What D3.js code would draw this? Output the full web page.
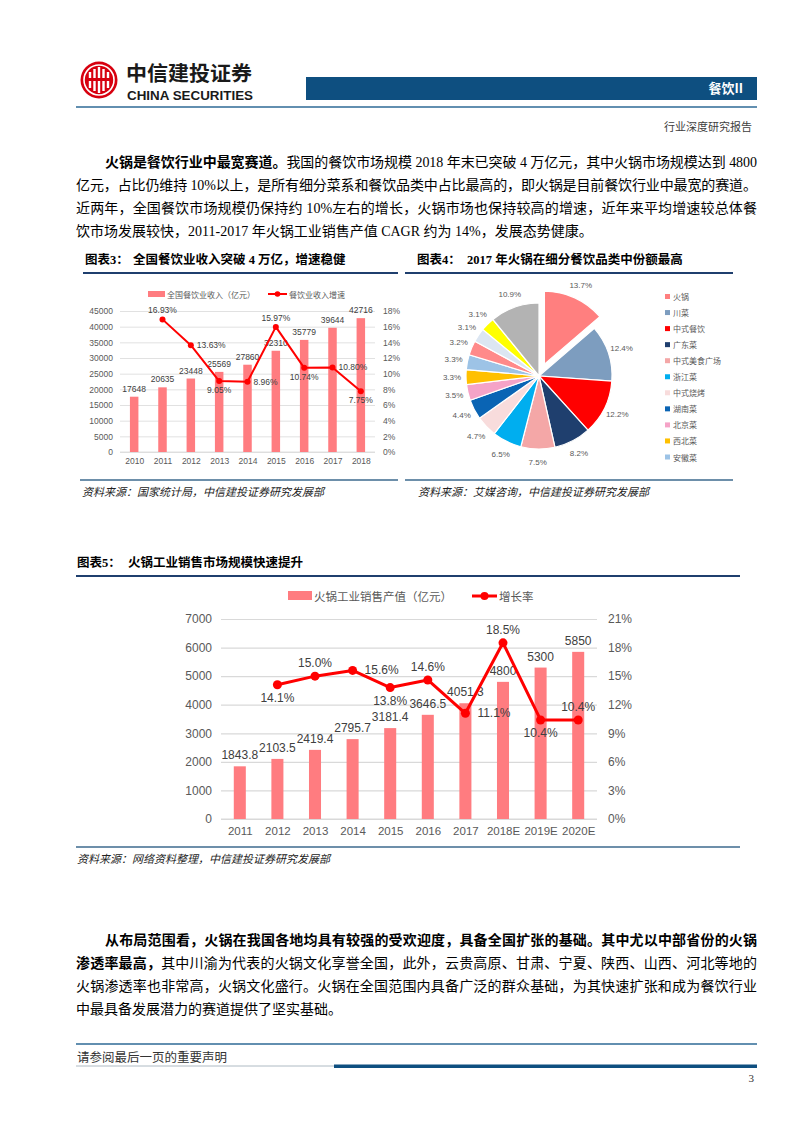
<!DOCTYPE html>
<html><head><meta charset="utf-8">
<script src="https://cdn.jsdelivr.net/npm/d3@7"></script>
<style>body{margin:0;background:#fff}svg{display:block}</style>
</head><body>
<svg id="page" width="802" height="1133"></svg>
<script>
// ---------------- DATA ----------------
// Chart 3: national catering revenue
const c3Years = ["2010","2011","2012","2013","2014","2015","2016","2017","2018"];
const c3Revenue = [17648,20635,23448,25569,27860,32310,35779,39644,42716];
const c3Growth = [null,16.93,13.63,9.05,8.96,15.97,10.74,10.80,7.75];
const c3LeftTicks = [0,5000,10000,15000,20000,25000,30000,35000,40000,45000];
const c3RightTicks = [0,2,4,6,8,10,12,14,16,18];

// Chart 4: 2017 share by catering category
const c4Categories = ["火锅","川菜","中式餐饮","广东菜","中式美食广场","浙江菜","中式烧烤","湖南菜","北京菜","西北菜","安徽菜","其他1","其他2","其他3","其他4"];
const c4Shares = [13.7,12.4,12.2,8.2,7.5,6.5,4.7,4.4,3.5,3.3,3.3,3.2,3.1,3.1,10.9];

// Chart 5: hotpot industrial sales output
const c5Years = ["2011","2012","2013","2014","2015","2016","2017","2018E","2019E","2020E"];
const c5Output = [1843.8,2103.5,2419.4,2795.7,3181.4,3646.5,4051.3,4800,5300,5850];
const c5Growth = [null,14.1,15.0,15.6,13.8,14.6,11.1,18.5,10.4,10.4];
const c5LeftTicks = [0,1000,2000,3000,4000,5000,6000,7000];
const c5RightTicks = [0,3,6,9,12,15,18,21];

// ---------------- STYLES ----------------
const c4Colors = ["#FF7F7F","#7D9DBF","#FF0000","#1F3F6E","#F4A7A7","#00AEEF","#F8DCDC","#0A64B4","#F5A3C7","#FFC000","#9DC3E6","#FF8A8A","#DCE6F2","#FFFF00","#B3B3B3"];
const c3LabelPos = [null,"above","right","below","right","above","below","right","below"];
const c5LabelPos = [null,"below","above","right","below","above","right","above","below","above"];
const SERIF = "'Liberation Serif','Noto Sans CJK SC',serif";
const SANS = "'Liberation Sans',Arial,'Noto Sans CJK SC',sans-serif";
const CJK = "'Noto Sans CJK SC','Liberation Sans',sans-serif";
const BAR = "#FF7C80";
const GREY = "#595959";

const svg = d3.select("#page");
svg.append("rect").attr("width",802).attr("height",1133).attr("fill","#fff");

// ---------------- HEADER ----------------
const logo = svg.append("g").attr("transform","translate(99,80)");
logo.append("circle").attr("r",18.5).attr("fill","#D7000F");
logo.append("circle").attr("r",15).attr("fill","none").attr("stroke","#fff").attr("stroke-width",1.6);
[-9,-4.5,0,4.5,9].forEach((dx,i)=>{
  const h = [16,22,26,22,16][i];
  logo.append("rect").attr("x",dx-1.2).attr("y",-h/2).attr("width",2.4).attr("height",h).attr("fill","#fff");
});
logo.append("rect").attr("x",-11).attr("y",-2).attr("width",22).attr("height",3).attr("fill","#D7000F");
svg.append("text").attr("x",126).attr("y",81).attr("font-family",CJK).attr("font-weight","bold")
  .attr("font-size",20).attr("fill","#1a1a1a").attr("textLength",126).attr("lengthAdjust","spacingAndGlyphs").text("中信建投证券");
svg.append("text").attr("x",127).attr("y",99.5).attr("font-family",SANS).attr("font-weight","bold")
  .attr("font-size",12.5).attr("fill","#1a1a1a").attr("textLength",126).attr("lengthAdjust","spacingAndGlyphs").text("CHINA SECURITIES");
svg.append("rect").attr("x",306).attr("y",77).attr("width",451).attr("height",23).attr("fill","#0E4F80");
svg.append("text").attr("x",743).attr("y",93).attr("text-anchor","end").attr("font-family",CJK).attr("font-weight","bold")
  .attr("font-size",13).attr("fill","#fff").text("餐饮II");
svg.append("line").attr("x1",76).attr("x2",757).attr("y1",107).attr("y2",107).attr("stroke","#2E6A96").attr("stroke-width",1.3);
svg.append("text").attr("x",752).attr("y",131).attr("text-anchor","end").attr("font-family",CJK)
  .attr("font-size",11).attr("fill","#404040").text("行业深度研究报告");

// ---------------- PARAGRAPHS ----------------
function para(lines, y0, lh) {
  lines.forEach((ln,i)=>{
    const x = ln.indent ? 105 : 76;
    const t = svg.append("text").attr("x",x).attr("y",y0+i*lh).attr("font-family",SERIF)
      .attr("font-size",14).attr("fill","#000");
    ln.segs.forEach(s=>t.append("tspan").attr("font-weight",s.b?"bold":"normal").text(s.t));
    if (ln.justify) t.attr("textLength",757-x).attr("lengthAdjust","spacing");
  });
}
para([
  {indent:true,justify:true,segs:[{b:true,t:"火锅是餐饮行业中最宽赛道。"},{t:"我国的餐饮市场规模 2018 年末已突破 4 万亿元，其中火锅市场规模达到 4800"}]},
  {justify:true,segs:[{t:"亿元，占比仍维持 10%以上，是所有细分菜系和餐饮品类中占比最高的，即火锅是目前餐饮行业中最宽的赛道。"}]},
  {justify:true,segs:[{t:"近两年，全国餐饮市场规模仍保持约 10%左右的增长，火锅市场也保持较高的增速，近年来平均增速较总体餐"}]},
  {justify:false,segs:[{t:"饮市场发展较快，2011-2017 年火锅工业销售产值 CAGR 约为 14%，发展态势健康。"}]}
], 167, 23);
para([
  {indent:true,justify:true,segs:[{b:true,t:"从布局范围看，火锅在我国各地均具有较强的受欢迎度，具备全国扩张的基础。其中尤以中部省份的火锅"}]},
  {justify:true,segs:[{b:true,t:"渗透率最高，"},{t:"其中川渝为代表的火锅文化享誉全国，此外，云贵高原、甘肃、宁夏、陕西、山西、河北等地的"}]},
  {justify:true,segs:[{t:"火锅渗透率也非常高，火锅文化盛行。火锅在全国范围内具备广泛的群众基础，为其快速扩张和成为餐饮行业"}]},
  {justify:false,segs:[{t:"中最具备发展潜力的赛道提供了坚实基础。"}]}
], 945, 23);

// ---------------- TITLES / SOURCES ----------------
function title(x1, x2, y, num, nx, txt, tx) {
  svg.append("text").attr("x",nx).attr("y",y).attr("font-family",SERIF).attr("font-weight","bold")
    .attr("font-size",12.5).attr("fill","#000").text(num);
  svg.append("text").attr("x",tx).attr("y",y).attr("font-family",SERIF).attr("font-weight","bold")
    .attr("font-size",12.5).attr("fill","#000").text(txt);
  svg.append("line").attr("x1",x1).attr("x2",x2).attr("y1",y+9).attr("y2",y+9).attr("stroke","#1F3F6E").attr("stroke-width",2);
}
function source(x1, x2, y, tx, txt) {
  svg.append("line").attr("x1",x1).attr("x2",x2).attr("y1",y).attr("y2",y).attr("stroke","#3C6A8E").attr("stroke-width",1.3);
  svg.append("text").attr("x",tx).attr("y",y+16).attr("font-family",SERIF).attr("font-style","italic")
    .attr("font-size",11).attr("fill","#222").text(txt);
}
title(83, 398, 264, "图表3：", 85, "全国餐饮业收入突破 4 万亿，增速稳健", 133);
title(405, 733, 264, "图表4：", 417, "2017 年火锅在细分餐饮品类中份额最高", 467);
title(76, 740, 567, "图表5：", 77, "火锅工业销售市场规模快速提升", 128);
source(80, 398, 480, 82, "资料来源：国家统计局，中信建投证券研究发展部");
source(405, 733, 480, 418, "资料来源：艾媒咨询，中信建投证券研究发展部");
source(76, 740, 847, 77, "资料来源：网络资料整理，中信建投证券研究发展部");

// ---------------- COMBO CHART helper ----------------
function combo(opt) {
  const g = svg.append("g");
  const x = d3.scalePoint().domain(opt.cats).range([opt.x0,opt.x1]).padding(0.5);
  const step = x.step();
  const y = d3.scaleLinear().domain(opt.yDom).range([opt.yb,opt.yt]);
  const yr = d3.scaleLinear().domain(opt.yrDom).range([opt.yb,opt.yt]);
  const ax = g.append("g").attr("transform",`translate(${opt.x0},0)`)
    .call(d3.axisLeft(y).tickValues(opt.lt).tickSize(-(opt.x1-opt.x0)).tickPadding(opt.tp).tickFormat(d=>d));
  ax.select(".domain").remove();
  ax.selectAll(".tick line").attr("stroke","#D9D9D9").attr("stroke-width",opt.gw);
  ax.selectAll(".tick text").attr("font-family",SANS).attr("font-size",opt.fs).attr("fill",GREY);
  const axr = g.append("g").attr("transform",`translate(${opt.x1},0)`)
    .call(d3.axisRight(yr).tickValues(opt.rt).tickSize(0).tickPadding(opt.tpr).tickFormat(d=>d+"%"));
  axr.select(".domain").remove();
  axr.selectAll(".tick text").attr("font-family",SANS).attr("font-size",opt.fs).attr("fill",GREY);
  const axb = g.append("g").attr("transform",`translate(0,${opt.yb})`)
    .call(d3.axisBottom(x).tickSize(0).tickPadding(opt.tpb));
  axb.select(".domain").attr("stroke","#D9D9D9").attr("stroke-width",opt.gw)
    .attr("d",`M${opt.x0},0H${opt.x1}`);
  axb.selectAll(".tick text").attr("font-family",SANS).attr("font-size",opt.fsx).attr("fill",GREY);
  const bw = step*opt.bwr;
  g.selectAll(".bar").data(opt.bars).join("rect")
    .attr("x",(d,i)=>x(opt.cats[i])-bw/2).attr("y",d=>y(d))
    .attr("width",bw).attr("height",d=>opt.yb-y(d)).attr("fill",BAR);
  g.selectAll(".blab").data(opt.bars).join("text")
    .attr("x",(d,i)=>x(opt.cats[i])).attr("y",d=>y(d)-opt.bgap)
    .attr("text-anchor","middle").attr("dominant-baseline","central")
    .attr("font-family",SANS).attr("font-size",opt.fsl).attr("fill",opt.lc).text(d=>d);
  const pts = opt.line.map((v,i)=>({v,i})).filter(d=>d.v!=null);
  g.append("path").datum(pts).attr("fill","none").attr("stroke","#FF0000").attr("stroke-width",opt.lw)
    .attr("stroke-linejoin","round")
    .attr("d",d3.line().x(d=>x(opt.cats[d.i])).y(d=>yr(d.v)));
  g.selectAll(".pt").data(pts).join("circle")
    .attr("cx",d=>x(opt.cats[d.i])).attr("cy",d=>yr(d.v)).attr("r",opt.mr).attr("fill","#FF0000");
  g.selectAll(".llab").data(pts).join("text")
    .attr("x",d=>{const p=opt.pos[d.i];const cx=x(opt.cats[d.i]);return p==="right"?cx+opt.rgap:cx;})
    .attr("y",d=>{const p=opt.pos[d.i];const cy=yr(d.v);return p==="above"?cy-opt.vgap:p==="below"?cy+opt.vgap:cy;})
    .attr("text-anchor",d=>opt.pos[d.i]==="right"?"start":"middle").attr("dominant-baseline","central")
    .attr("font-family",SANS).attr("font-size",opt.fsl).attr("fill",opt.lc).text(d=>d.v.toFixed(opt.dec)+"%");
  return {g,x,y,yr};
}

// Chart 3
combo({cats:c3Years,bars:c3Revenue,line:c3Growth,x0:120,x1:375,yb:452,yt:311,
  yDom:[0,45000],yrDom:[0,18],lt:c3LeftTicks,rt:c3RightTicks,tp:7,tpr:8,tpb:6,
  fs:8.5,fsx:8.5,fsl:8.5,gw:0.8,bwr:0.3,bgap:8,lw:2,mr:3,vgap:9,rgap:6,dec:2,pos:c3LabelPos,lc:"#404040"});
{
  const lg = svg.append("g").attr("font-family",CJK).attr("font-size",8).attr("fill",GREY);
  lg.append("rect").attr("x",148).attr("y",291).attr("width",17).attr("height",6).attr("fill",BAR);
  lg.append("text").attr("x",167).attr("y",294).attr("dominant-baseline","central").text("全国餐饮业收入（亿元）");
  lg.append("line").attr("x1",268).attr("x2",287).attr("y1",294).attr("y2",294).attr("stroke","#FF0000").attr("stroke-width",2);
  lg.append("circle").attr("cx",277.5).attr("cy",294).attr("r",2.8).attr("fill","#FF0000");
  lg.append("text").attr("x",289).attr("y",294).attr("dominant-baseline","central").text("餐饮业收入增速");
}

// Chart 5
combo({cats:c5Years,bars:c5Output,line:c5Growth,x0:221,x1:597,yb:819,yt:619,
  yDom:[0,7000],yrDom:[0,21],lt:c5LeftTicks,rt:c5RightTicks,tp:9,tpr:11,tpb:8,
  fs:12,fsx:11.5,fsl:12,gw:1.2,bwr:0.32,bgap:11,lw:3,mr:4.5,vgap:13,rgap:12,dec:1,pos:c5LabelPos,lc:"#404040"});
{
  const lg = svg.append("g").attr("font-family",CJK).attr("font-size",11.5).attr("fill",GREY);
  lg.append("rect").attr("x",288).attr("y",591).attr("width",24).attr("height",9).attr("fill",BAR);
  lg.append("text").attr("x",314).attr("y",596).attr("dominant-baseline","central").text("火锅工业销售产值（亿元）");
  lg.append("line").attr("x1",472).attr("x2",497).attr("y1",596).attr("y2",596).attr("stroke","#FF0000").attr("stroke-width",3);
  lg.append("circle").attr("cx",484.5).attr("cy",596).attr("r",4).attr("fill","#FF0000");
  lg.append("text").attr("x",499).attr("y",596).attr("dominant-baseline","central").text("增长率");
}

// ---------------- PIE (Chart 4) ----------------
{
  const cx = 539, cy = 376, R = 73, LR = 87, explode = 13;
  const g = svg.append("g").attr("transform",`translate(${cx},${cy})`);
  const arcs = d3.pie().sort(null).value(d=>d)(c4Shares);
  const arc = d3.arc().innerRadius(0).outerRadius(R);
  const larc = d3.arc().innerRadius(LR).outerRadius(LR);
  const off = (d,i)=>{ if(i!==0) return [0,0]; const a=(d.startAngle+d.endAngle)/2; return [explode*Math.sin(a),-explode*Math.cos(a)]; };
  g.selectAll("path").data(arcs).join("path")
    .attr("d",arc).attr("fill",(d,i)=>c4Colors[i]).attr("stroke","#fff").attr("stroke-width",1.2)
    .attr("transform",(d,i)=>`translate(${off(d,i)})`);
  g.selectAll("text").data(arcs).join("text")
    .attr("transform",(d,i)=>{const c=larc.centroid(d);const o=off(d,i);return `translate(${c[0]+o[0]},${c[1]+o[1]})`;})
    .attr("text-anchor","middle").attr("dominant-baseline","central")
    .attr("font-family",SANS).attr("font-size",8).attr("fill",GREY)
    .text(d=>d.data.toFixed(1)+"%");
  const lg = svg.append("g").attr("font-family",CJK).attr("font-size",8).attr("fill",GREY);
  const ly = d3.scalePoint().domain(c4Categories.slice(0,11)).range([296.5,457]);
  c4Categories.slice(0,11).forEach((c,i)=>{
    lg.append("rect").attr("x",665).attr("y",ly(c)-2.5).attr("width",5).attr("height",5).attr("fill",c4Colors[i]);
    lg.append("text").attr("x",673).attr("y",ly(c)).attr("dominant-baseline","central").text(c);
  });
}

// ---------------- FOOTER ----------------
svg.append("line").attr("x1",76).attr("x2",757).attr("y1",1044).attr("y2",1044).attr("stroke","#2E6A96").attr("stroke-width",1.5);
svg.append("text").attr("x",77).attr("y",1062).attr("font-family",SERIF).attr("font-size",12.5).attr("fill","#333").text("请参阅最后一页的重要声明");
svg.append("line").attr("x1",76).attr("x2",334).attr("y1",1066).attr("y2",1066).attr("stroke","#9AA8B4").attr("stroke-width",0.8);
svg.append("rect").attr("x",334).attr("y",1064.5).attr("width",423).attr("height",3.5).attr("fill","#0E4F80");
svg.append("text").attr("x",754).attr("y",1082).attr("text-anchor","end").attr("font-family",SERIF).attr("font-size",11).attr("fill","#333").text("3");
</script>
</body></html>
